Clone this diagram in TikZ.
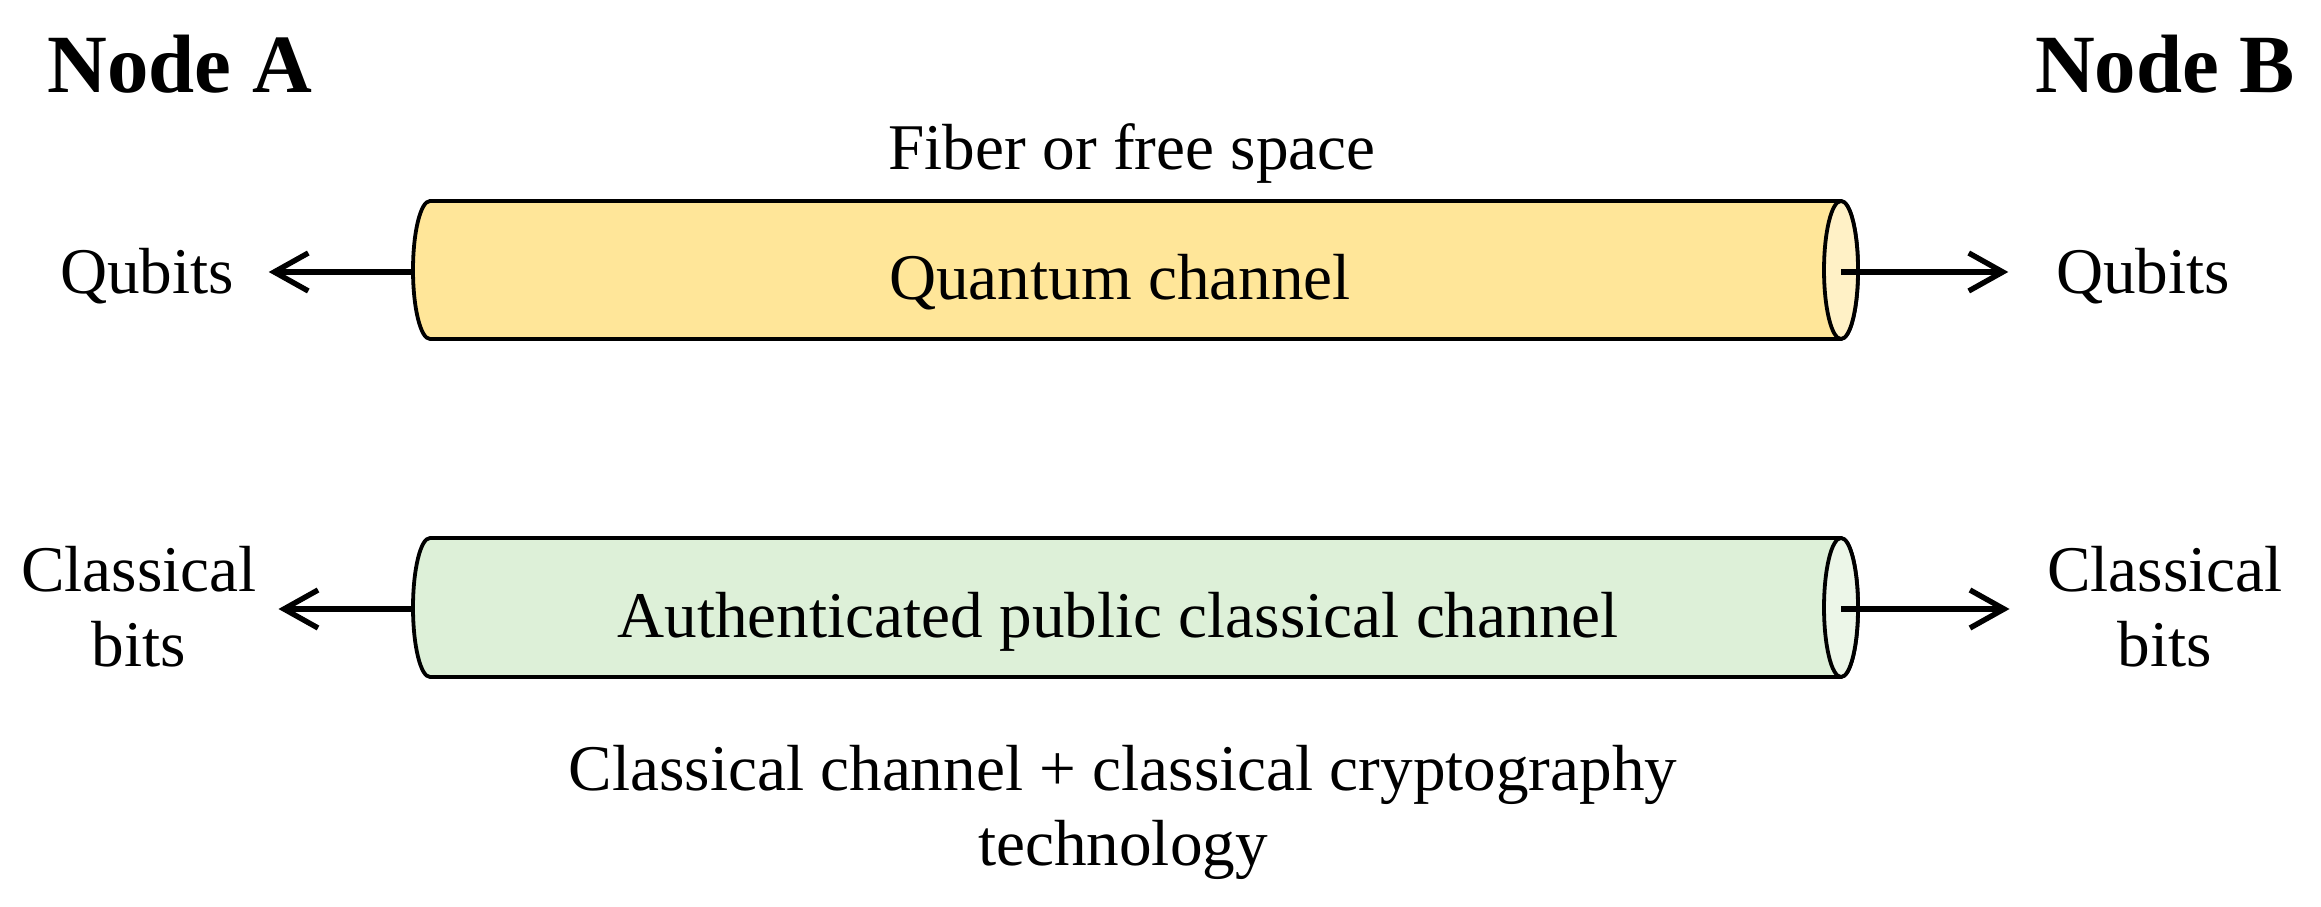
\documentclass[tikz,border=0pt]{standalone}
\usepackage{fontspec}
\setmainfont{Liberation Serif}
\usetikzlibrary{arrows.meta}
\definecolor{qbody}{HTML}{FFE699}
\definecolor{qface}{HTML}{FFF1C6}
\definecolor{cbody}{HTML}{DDF0D8}
\definecolor{cface}{HTML}{ECF6E8}
\begin{document}
\begin{tikzpicture}[x=0.25pt,y=-0.25pt,
  lbl/.style={font=\fontsize{16.3pt}{18.75pt}\selectfont, inner sep=0pt, align=center},
  head/.style={font=\fontsize{20.7pt}{24pt}\selectfont\bfseries, inner sep=0pt},
  pipe/.style={draw=black, line width=0.95pt, line join=round},
  arr/.style={line width=1.35pt, -{Straight Barb[length=8.5pt,width=9.5pt]}},
]
\useasboundingbox (0,0) rectangle (2321,907);

% quantum channel pipe
\draw[pipe, fill=qbody] (430,201) -- (1841,201)
  arc[start angle=90,end angle=-90,x radius=4.25pt,y radius=17.25pt]
  -- (430,339)
  arc[start angle=270,end angle=90,x radius=4.25pt,y radius=17.25pt] -- cycle;
\draw[pipe, fill=qface] (1841,270) ellipse[x radius=4.25pt, y radius=17.25pt];

% classical channel pipe
\draw[pipe, fill=cbody] (430,538) -- (1841,538)
  arc[start angle=90,end angle=-90,x radius=4.25pt,y radius=17.375pt]
  -- (430,677)
  arc[start angle=270,end angle=90,x radius=4.25pt,y radius=17.375pt] -- cycle;
\draw[pipe, fill=cface] (1841,607.5) ellipse[x radius=4.25pt, y radius=17.375pt];

% texts (multi-line nodes: base anchor is the last line's baseline)
\node[head, anchor=base] (nodeA) at (180,93) {Node A};
\node[head, anchor=base] (nodeB) at (2165,93) {Node B};
\node[lbl, anchor=base] (fiber) at (1132,170) {Fiber or free space};
\node[lbl, anchor=base] (qch) at (1120,300) {Quantum channel};
\node[lbl, anchor=base] (qA) at (147,294) {Qubits};
\node[lbl, anchor=base] (qB) at (2143,294) {Qubits};
\node[lbl, anchor=base] (apc) at (1118,638) {Authenticated public classical channel};
\node[lbl, anchor=base] (cA) at (139,667) {Classical\\bits};
\node[lbl, anchor=base] (cB) at (2165,667) {Classical\\bits};
\node[lbl, anchor=base] (cct) at (1123,865) {Classical channel + classical cryptography\\technology};

% connector ends on the pipes
\coordinate (qL) at (413,272);
\coordinate (qR) at (1841,272);
\coordinate (cL) at (412,609);
\coordinate (cR) at (1841,609);

% arrows
\draw[arr, shorten >=8.5pt] (qL) -- (qL -| qA.east);
\draw[arr, shorten >=11.75pt] (qR) -- (qR -| qB.west);
\draw[arr, shorten >=5.25pt] (cL) -- (cL -| cA.east);
\draw[arr, shorten >=9.25pt] (cR) -- (cR -| cB.west);
\end{tikzpicture}
\end{document}
